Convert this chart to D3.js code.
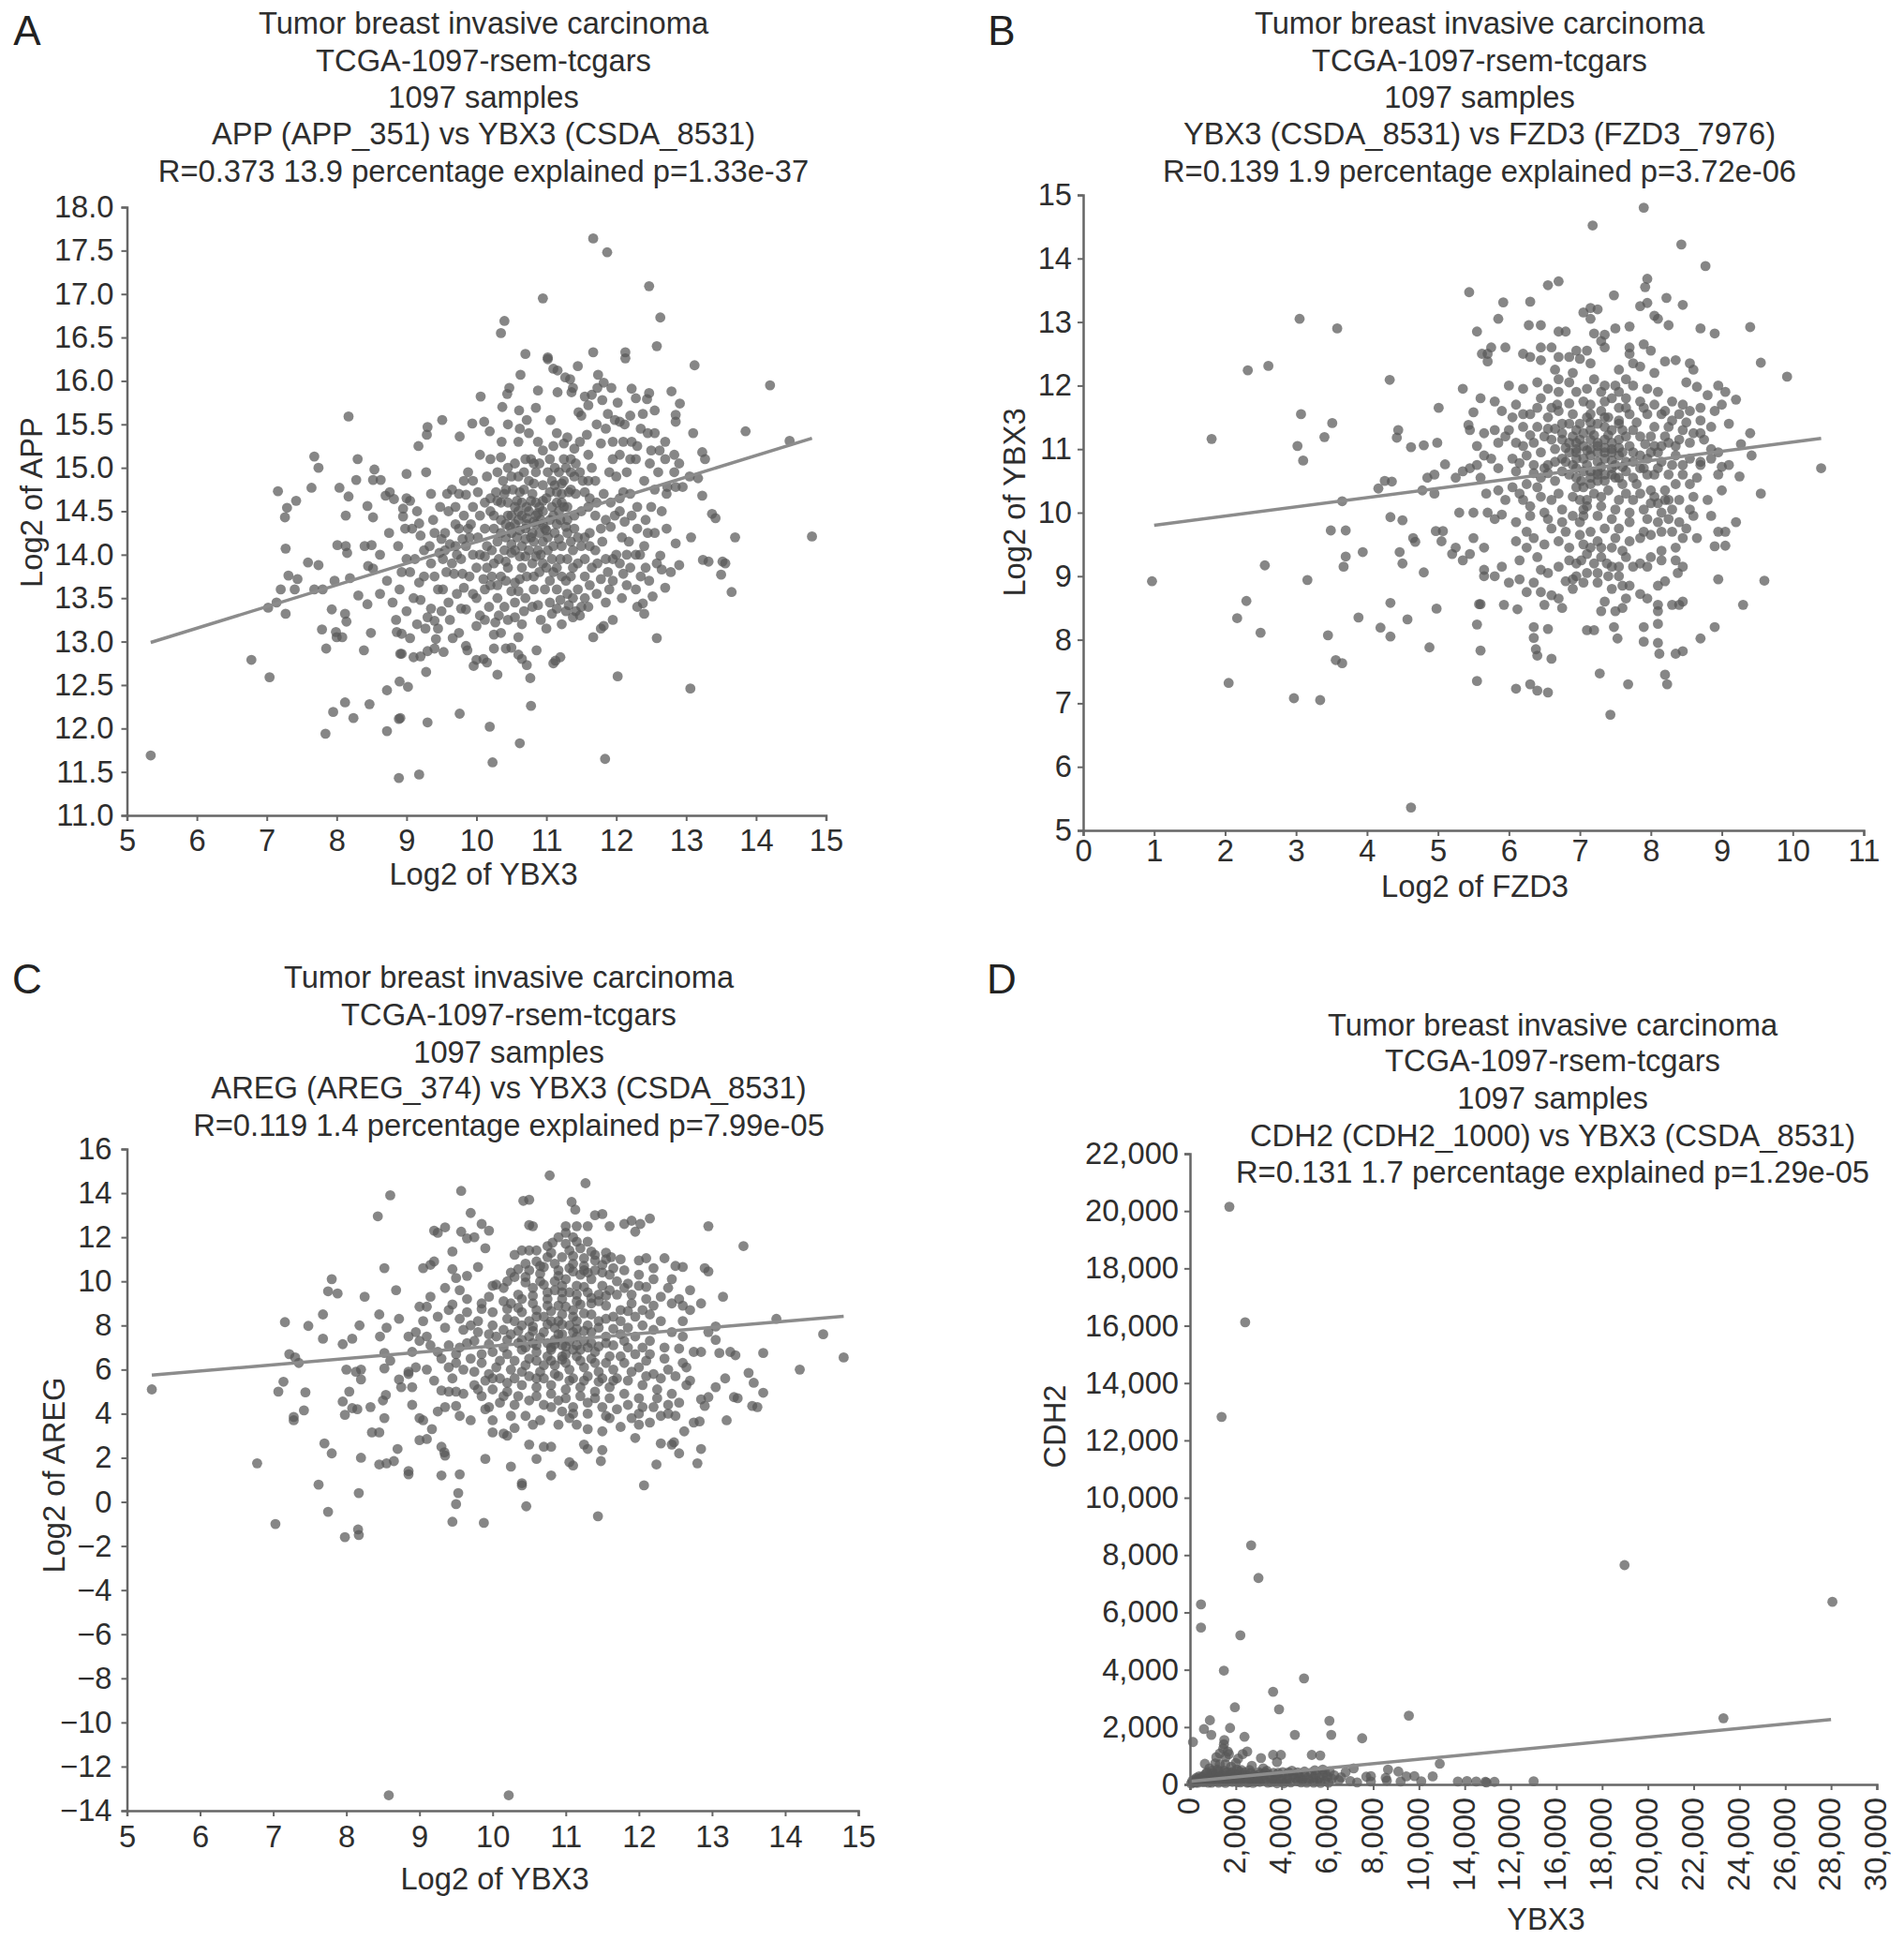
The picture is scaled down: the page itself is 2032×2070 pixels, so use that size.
<!DOCTYPE html>
<html><head><meta charset="utf-8">
<script src="https://cdnjs.cloudflare.com/ajax/libs/d3/7.8.5/d3.min.js"></script>
<style>html,body{margin:0;padding:0;background:#fff}svg{display:block}text{font-family:"Liberation Sans",Arial,sans-serif;fill:#2e2e2e}</style>
</head><body><svg id="c" width="2032" height="2070"></svg>
<script>
const pointsA=[[5.34,11.69],[6.78,12.79],[7.04,12.59],[7.02,13.39],[7.14,13.45],[7.27,13.32],[7.2,13.6],[7.31,13.76],[7.44,13.72],[7.4,13.6],[7.27,14.07],[7.16,14.73],[7.26,14.43],[7.29,14.54],[7.42,14.62],[7.59,13.91],[7.74,13.88],[7.68,13.6],[7.8,13.6],[7.64,14.77],[7.68,15.13],[7.74,15.0],[8.17,15.59],[8.3,15.1],[8.04,14.77],[8.17,14.67],[8.28,14.86],[8.54,14.98],[8.52,14.86],[8.63,14.86],[8.13,14.45],[8.44,14.56],[8.52,14.43],[8.01,14.11],[8.13,14.1],[8.15,14.02],[8.4,14.1],[8.5,14.11],[7.97,13.7],[8.19,13.73],[8.45,13.87],[8.52,13.84],[8.31,13.53],[8.44,13.43],[7.93,13.37],[8.12,13.32],[8.14,13.23],[7.79,13.14],[7.99,13.11],[8.0,13.05],[8.08,13.05],[7.85,12.92],[8.39,12.9],[8.49,13.1],[8.86,13.11],[8.93,13.09],[9.05,13.04],[8.91,12.86],[8.93,12.86],[9.1,12.82],[9.2,12.83],[9.3,12.89],[9.28,12.65],[9.4,12.92],[9.53,12.88],[9.66,13.04],[9.42,13.03],[8.9,12.54],[9.02,12.48],[8.72,12.44],[8.12,12.3],[8.47,12.28],[7.95,12.19],[8.24,12.12],[7.84,11.94],[8.72,11.97],[8.89,12.11],[8.91,12.12],[9.3,12.07],[9.76,12.17],[10.19,12.02],[10.23,11.61],[10.62,11.83],[10.78,12.26],[8.89,11.43],[9.18,11.47],[11.84,11.65],[12.02,12.6],[13.06,12.46],[12.58,13.04],[11.67,13.05],[11.78,13.15],[11.82,13.18],[11.95,13.25],[10.86,12.9],[10.72,12.73],[10.65,12.8],[10.6,12.85],[10.77,12.58],[11.13,12.78],[11.1,12.75],[11.2,12.82],[10.42,12.92],[10.25,12.92],[10.5,12.93],[10.3,12.62],[10.1,12.8],[10.0,12.79],[10.15,12.76],[9.96,12.72],[9.85,12.95],[9.87,12.9],[10.25,13.08],[10.35,13.1],[10.6,13.05],
[11.67,17.64],[11.87,17.48],[12.47,17.09],[10.95,16.95],[12.63,16.73],[10.4,16.69],[10.35,16.55],[10.7,16.31],[11.67,16.33],[11.02,16.27],[11.02,16.25],[12.13,16.33],[12.13,16.26],[12.58,16.4],[13.12,16.18],[11.45,16.17],[11.1,16.14],[11.16,16.12],[11.27,16.04],[11.34,16.02],[10.63,16.07],[14.2,15.95],[11.74,16.07],[11.82,15.98],[11.93,15.92],[12.22,15.91],[12.47,15.86],[12.44,15.79],[12.79,15.88],[12.91,15.74],[10.47,15.92],[10.44,15.85],[10.37,15.7],[10.88,15.89],[11.16,15.87],[11.36,15.87],[11.38,15.92],[11.55,15.82],[11.65,15.84],[11.73,15.92],[10.06,15.82],[12.55,15.66],[10.61,15.66],[10.85,15.69],[10.72,15.55],[11.06,15.55],[11.46,15.64],[11.5,15.6],[11.88,15.62],[11.98,15.55],[12.2,15.6],[12.05,15.53],[12.85,15.61],[12.85,15.53],[9.51,15.55],[9.3,15.47],[9.29,15.38],[9.17,15.25],[9.94,15.51],[10.11,15.53],[10.19,15.42],[9.76,15.36],[10.36,15.3],[10.6,15.3],[13.1,15.4],[13.85,15.42],[14.48,15.31],[14.8,14.21],[13.23,15.18],[13.27,15.1],[13.05,14.9],[13.17,14.88],[12.9,15.05],[12.83,15.15],[12.83,14.95],[12.95,14.78],[12.85,14.78],[12.72,14.7],[12.73,14.78],[13.23,14.68],[13.37,14.47],[13.42,14.42],[13.7,14.2],[13.52,13.92],[13.56,13.9],[13.5,13.77],[13.65,13.57],[13.24,13.94],[13.32,13.92],[12.9,13.88],[12.85,14.13],[13.07,14.2],[12.63,13.99],[12.58,13.9],[12.65,13.83],[12.78,13.8],[12.7,13.62],[12.47,13.7],[12.52,13.52],[12.38,13.44],[12.3,13.4],[12.4,13.32],[12.34,14.0],[12.42,13.85],[12.28,14.0],[12.1,13.78],[12.2,13.85],[12.08,13.5],[11.9,13.6],[11.73,13.9],[11.88,13.8],
[9.0,14.65],[8.7,14.68],[8.76,14.72],[8.82,14.64],[8.95,14.53],[8.95,14.44],[9.05,14.62],[9.08,14.3],[9.15,14.5],[9.18,14.36],[9.2,14.22],[9.28,14.95],[9.0,14.93],[9.33,14.1],[9.4,14.25],[9.5,14.18],[9.47,14.02],[9.12,13.95],[9.0,13.95],[8.93,13.8],[9.05,13.8],[9.18,13.68],[8.9,13.6],[9.1,13.5],[9.2,13.48],[9.35,13.38],[9.45,13.6],[9.3,13.28],[9.4,13.24],[9.27,13.15],[9.0,13.35],[9.57,13.8],[9.65,13.9],[9.7,14.1],[9.75,14.3],[9.6,14.5],[9.65,14.75],[9.75,14.7],[9.85,14.69],[9.95,14.85],[9.82,14.45],[9.9,14.2],[9.95,14.0],[9.8,13.78],[9.9,13.75],[9.95,13.55],[10.05,13.3],[9.85,13.37],[10.0,13.18],[10.12,13.25],[10.27,13.22],[10.1,13.72],[10.2,13.65],[10.3,13.5],[10.25,13.9],[10.15,14.1],[10.25,14.3],[10.05,14.45],[10.2,14.65],[10.15,14.9],[10.05,15.15],[10.2,15.1],[10.3,14.95],[10.4,14.7],[10.45,14.45],[10.5,14.25],[10.4,14.05],[10.45,13.85],[10.55,13.68],[10.55,13.45],[10.45,13.25],[10.65,13.2],[10.7,13.5],[10.72,13.75],[10.62,13.98],[10.7,14.18],[10.6,14.4],[10.65,14.6],[10.52,14.75],[10.6,14.9],[10.78,15.1],[10.88,15.3],[10.85,14.95],[10.95,14.8],[10.8,14.7],[10.75,14.5],[10.85,14.35],[10.95,14.5],[10.82,14.15],[10.92,14.0],[10.8,13.9],[10.9,13.8],[10.98,13.6],[10.88,13.42],[11.0,13.15],[11.05,13.45],[11.15,13.6],[11.1,13.8],[11.02,14.05],[11.12,14.25],[11.05,14.4],[11.15,14.6],[11.05,14.72],[11.02,14.95],[11.12,15.0],[11.1,15.25],[11.25,15.1],[11.25,14.85],[11.35,14.95],[11.22,14.7],[11.3,14.55],[11.2,14.4],[11.3,14.25],[11.22,14.1],[11.3,13.95],[11.22,13.75],[11.3,13.55],[11.2,13.48],[11.28,13.35],[11.22,13.2],[11.42,13.35],[11.5,13.4],[11.45,13.6],[11.55,13.75],[11.45,13.9],[11.5,14.1],[11.4,14.3],[11.5,14.5],[11.42,14.7],[11.52,14.85],[11.42,15.05],[11.48,15.3],[11.58,15.38],[11.6,15.15],[11.65,15.0],[11.7,14.85],[11.62,14.65],[11.7,14.45],[11.62,14.25],[11.7,14.05],[11.65,13.85],[11.72,13.55],[11.85,13.45],[11.8,14.15],[11.85,14.4],[11.82,14.7],[11.9,14.95],[11.78,15.28],[11.95,15.3],[12.05,15.15],[12.0,14.9],[12.05,14.65],[11.98,14.45],[12.08,14.2],[12.0,14.0],[12.15,14.0],[12.2,14.7],[12.15,14.95],[12.28,15.1],[12.35,15.45],[12.45,15.4],[12.5,15.2],[12.48,15.05],[12.4,14.85],[12.3,14.55],[12.42,14.4],[12.3,14.3],[12.55,14.75],[12.6,14.95],[12.62,15.2],
[10.85,14.6],[10.9,14.25],[10.7,14.3],[10.55,14.55],[10.75,14.85],[10.65,14.45],[10.45,14.6],[10.35,14.4],[10.58,14.2],[10.42,14.2],[10.8,14.25],[10.98,14.3],[11.08,14.55],[11.0,14.65],[11.18,14.95],[11.12,14.8],[11.28,15.0],[11.35,14.75],[11.18,14.5],[11.4,14.45],[11.3,14.4],[10.55,14.35],[10.68,14.75],[10.88,14.48],[10.35,14.6],[10.3,14.15],[10.55,14.05],[10.75,14.05],[10.95,14.15],[11.1,14.1],[11.2,13.95],[10.65,13.85],[10.35,13.75],[10.05,14.0],[9.85,14.1],[9.7,14.35],[9.55,14.25],[9.78,13.95],[10.15,13.85],[10.6,13.58],[11.35,14.15],[11.6,14.55],[11.55,14.2],[11.85,13.95],[10.9,15.05],[11.4,14.9],[10.2,14.5],[10.3,13.65],[10.4,13.4],[10.82,13.6],[11.35,13.75],[11.6,13.4],[9.5,13.35],[9.62,13.25],[9.75,13.1],[9.58,14.7],[9.88,14.95]];
const extraA=[[10.48,14.32],[10.62,14.28],[10.72,14.42],[10.58,14.62],[10.78,14.62],[10.92,14.4],[11.02,14.2],[11.15,14.35],[11.25,14.55],[11.08,14.85],[10.95,14.62],[10.82,14.82],[10.68,14.95],[10.5,14.9],[10.38,14.85],[10.3,14.62],[10.25,14.45],[10.12,14.3],[10.02,14.2],[10.12,14.6],[10.02,14.72],[9.95,14.55],[9.88,14.3],[9.8,14.18],[9.72,14.0],[9.62,14.12],[9.52,13.95],[9.68,13.78],[9.82,13.62],[10.0,13.85],[10.12,13.98],[10.22,14.05],[10.32,13.95],[10.42,13.92],[10.5,14.12],[10.65,14.1],[10.78,14.2],[10.88,14.05],[11.0,14.28],[11.08,13.95],[11.18,14.18],[11.28,14.32],[11.38,14.05],[11.45,14.2],[11.38,13.85],[11.28,13.7],[11.15,13.85],[11.05,13.7],[10.95,13.9],[10.82,13.75],[10.62,13.72],[10.5,13.58],[10.42,13.7],[10.22,13.75],[10.12,13.6],[10.0,13.5],[10.18,13.4],[10.32,13.3],[10.55,13.28],[10.68,13.35],[10.8,13.4],[10.92,13.25],[11.08,13.32],[11.15,13.38],[11.32,13.42],[11.38,13.5],[11.55,13.5],[11.48,13.3],[11.38,13.28],[11.62,13.65],[11.78,13.72],[11.55,13.95],[11.62,14.1],[11.78,14.3],[11.72,14.6],[11.92,14.6],[11.92,14.32],[12.05,14.5],[12.1,14.72],[12.12,14.38],[12.18,14.15],[12.22,14.45],[11.55,14.72],[11.6,14.85],[11.48,14.95],[11.35,15.1],[11.25,15.28],[11.4,15.22],[11.3,15.35],[11.05,15.1],[10.95,15.2],[10.82,15.05],[10.7,15.1],[10.55,15.05],[10.45,15.0],[10.35,15.12],[10.62,15.45],[10.45,15.5],[10.75,15.4],[11.15,15.4],[11.72,15.5],[11.85,15.45],[11.95,15.1],[12.1,15.3],[12.22,15.3],[12.3,15.25],[12.2,15.1],[12.12,15.5],[12.28,15.8],[12.02,15.75],[11.8,15.78],[11.6,15.72],[12.38,15.62],[12.55,15.4],[12.7,15.1],[12.7,15.3],[12.65,14.5],[12.5,14.55],[12.45,14.25],[12.55,14.25],[12.72,14.3],[12.4,14.1],[12.15,13.65],[12.28,13.6],[12.35,13.75],[12.05,13.9],[11.95,13.95],[11.95,13.7],[9.25,14.05],[9.35,13.9],[9.25,13.75],[9.4,13.75],[9.52,13.6],[9.6,13.45],[9.72,13.55],[9.78,13.38],[9.55,14.05],[9.38,14.4],[9.48,14.55],[9.35,14.7],[9.7,14.55],[9.82,14.85],[9.92,14.35],[8.98,14.3],[8.88,14.1],[8.75,14.25],[8.62,14.0],[8.72,13.7],[8.62,13.55],[8.8,13.45],[8.85,13.25],[9.15,13.2],[9.45,13.15],[10.72,14.35],[10.85,14.45],[10.6,14.5],[10.72,14.55],[10.9,14.55],[10.95,14.35],[10.5,14.45],[10.42,14.35],[11.1,14.45],[11.22,14.6],[11.32,14.72],[11.15,14.72],[11.22,14.82],[10.82,14.38],[10.62,14.72],[10.42,14.75],[10.28,14.72],[10.35,14.25],[10.5,14.02],[10.7,13.98],[10.85,13.98],[11.0,13.85]];
const lineA=[[5.34,12.99],[14.8,15.34]];
const pointsB=[[0.97,8.92],[1.81,11.16],[2.05,7.32],[2.17,8.34],[2.3,8.61],[2.5,8.11],[2.56,9.17],[2.32,12.24],[2.61,12.31],[3.05,13.05],[3.58,12.9],[3.07,11.55],[3.02,11.05],[3.1,10.82],[3.4,11.19],[3.51,11.41],[2.97,7.08],[3.34,7.05],[3.16,8.94],[3.45,8.07],[3.56,7.68],[3.65,7.63],[3.49,9.72],[3.7,9.72],[3.65,10.18],[3.7,9.31],[3.67,9.15],[3.94,9.38],[3.88,8.35],[4.19,8.19],[4.33,8.05],[4.33,8.58],[4.57,8.32],[4.46,9.38],[4.5,9.2],[4.33,9.93],[4.5,9.88],[4.16,10.38],[4.25,10.5],[4.35,10.49],[4.32,12.09],[4.44,11.3],[4.42,11.18],[4.62,11.03],[4.8,11.06],[4.99,11.1],[5.01,11.65],[4.62,5.36],[4.65,9.6],[4.68,9.54],[4.8,9.06],[4.88,7.88],[4.98,8.49],[4.97,9.71],[5.07,9.71],[5.05,9.55],[5.25,9.45],[5.2,9.35],[5.35,9.25],[5.45,9.35],[5.44,13.47],[5.1,10.76],[4.85,10.55],[4.95,10.6],[4.78,10.35],[4.95,10.3],[5.25,10.55],[5.35,10.65],[5.45,10.7],[5.55,10.75],[5.6,11.8],[5.55,12.85],[5.62,12.5],[5.7,12.5],[5.75,12.6],[5.95,12.6],[5.7,12.38],[5.85,13.05],[5.35,11.95],[5.45,11.3],[5.43,11.38],[5.5,11.58],[5.55,11.05],[5.65,10.9],[5.75,10.85],[5.6,10.55],[5.68,10.3],[5.5,10.0],[5.3,10.0],[5.7,10.0],[5.9,9.97],[5.8,9.9],[5.65,9.45],[5.5,9.6],[5.65,9.1],[5.58,8.56],[5.6,8.56],[5.55,8.24],[5.6,7.83],[5.55,7.35],[5.65,9.0],[5.8,9.0],[5.9,9.15],[5.93,8.55],[6.12,8.48],[6.0,8.9],[6.1,7.23],[6.3,7.3],[6.4,7.2],[6.55,7.17],[6.35,8.2],[6.35,8.03],[6.55,8.17],[6.38,7.85],[6.4,7.75],[6.6,7.7],[6.35,8.9],[6.45,8.75],[6.6,8.7],[6.7,8.65],[6.75,8.5],[6.8,8.92],[6.9,8.8],[7.1,8.15],[7.2,8.15],[7.28,7.47],[7.3,8.45],[7.5,8.45],[7.48,8.2],[7.53,8.02],[7.6,8.5],[7.43,6.82],[7.68,7.3],[7.9,7.97],[7.9,8.2],[8.1,7.95],[8.12,7.78],[8.1,8.25],[8.2,7.45],[8.23,7.3],[8.35,7.78],[8.45,7.82],[8.1,8.55],[8.1,8.45],[8.3,8.55],[8.4,8.55],[8.45,8.6],[8.7,8.02],[8.9,8.2],[9.3,8.55],[9.6,8.93],[8.95,8.95],[8.9,9.47],[9.05,9.7],[8.95,9.7],[9.05,9.48],[9.2,9.85],[8.85,9.95],[8.65,9.6],[8.45,9.6],[8.5,9.75],[8.35,9.25],[8.15,9.25],[8.45,9.15],[8.38,9.05],[8.2,8.92],[8.1,8.85],[7.95,8.65],[7.85,8.72],[7.6,8.85],[7.7,8.85],[7.55,9.0],[7.4,9.0],[7.25,8.9],[7.05,8.9],[6.95,9.2],
[5.92,13.31],[6.3,13.32],[6.55,13.58],[6.7,13.64],[7.18,14.52],[7.9,14.8],[8.43,14.22],[8.77,13.88],[7.95,13.68],[7.92,13.55],[7.48,13.42],[8.22,13.38],[8.45,13.27],[7.85,13.25],[7.95,13.3],[7.05,13.15],[7.15,13.22],[7.25,13.2],[7.15,13.05],[6.28,12.95],[6.45,12.95],[8.05,13.1],[8.1,13.05],[8.25,12.95],[8.7,12.9],[8.9,12.82],[7.5,12.9],[7.7,12.93],[6.7,12.85],[6.8,12.85],[7.2,12.82],[7.35,12.8],[9.4,12.92],[9.55,12.36],[9.92,12.14],[7.3,12.7],[7.35,12.6],[7.1,12.55],[6.95,12.55],[6.6,12.6],[6.45,12.6],[6.7,12.45],[6.2,12.5],[6.3,12.45],[6.45,12.4],[6.65,12.25],[6.85,12.45],[7.0,12.42],[7.15,12.35],[7.7,12.6],[7.7,12.5],[7.9,12.65],[8.0,12.55],[8.35,12.4],[8.2,12.38],[8.55,12.35],[8.6,12.25],[7.75,12.35],[7.55,12.25],[7.85,12.3],[8.05,12.2],[9.4,11.25],[9.27,11.08],[9.42,10.9],[9.25,10.57],[9.55,10.3],[10.4,10.7],[9.0,11.7],[9.2,11.78],[9.05,11.9],[8.95,12.0],[8.8,11.85],[8.65,11.98],[8.5,12.05],[8.9,11.6],[8.7,11.45],[8.5,11.42],[8.15,11.55],[8.85,11.0],[8.7,10.8],[8.95,10.6],[9.0,10.35],[8.8,10.2],[8.6,10.25],[8.4,10.2],[8.6,9.95],[8.3,10.05],[8.4,9.85],[9.1,10.75],[9.0,10.72],
[6.0,12.0],[5.8,11.75],[6.1,11.7],[5.9,11.6],[6.2,11.95],[6.3,11.55],[6.45,11.8],[6.55,11.95],[6.4,12.05],[6.7,12.1],[6.85,12.05],[6.95,11.9],[7.05,11.75],[7.2,12.1],[7.35,12.0],[7.5,12.0],[7.65,12.1],[7.75,12.0],[7.95,11.95],[8.1,11.9],[8.3,11.75],[8.45,11.7],[8.55,11.6],[7.85,11.75],[7.65,11.8],[7.45,11.8],[7.3,11.6],[7.1,11.5],[6.9,11.55],[6.7,11.6],[6.55,11.5],[6.4,11.35],[6.2,11.35],[6.0,11.3],[5.8,11.3],[5.65,11.25],[5.85,11.1],[6.1,11.1],[6.35,11.1],[6.5,11.2],[6.75,11.25],[6.95,11.3],[7.15,11.3],[7.35,11.35],[7.55,11.45],[7.7,11.55],[7.95,11.55],[8.05,11.35],[8.25,11.35],[8.4,11.15],[8.55,11.1],[8.25,11.1],[8.05,11.05],[7.85,11.2],[7.65,11.2],[7.45,11.1],[7.25,11.05],[7.05,11.05],[6.85,11.1],[6.65,11.0],[6.45,10.95],[6.25,10.9],[6.05,10.85],[5.85,10.7],[6.1,10.65],[6.35,10.75],[6.55,10.75],[6.75,10.85],[6.95,10.85],[7.15,10.9],[7.35,10.85],[7.55,10.9],[7.75,10.95],[7.95,10.85],[8.15,10.8],[8.35,10.9],[8.55,10.85],[8.7,10.75],[8.45,10.6],[8.25,10.6],[8.05,10.6],[7.85,10.7],[7.65,10.65],[7.45,10.7],[7.25,10.65],[7.05,10.65],[6.85,10.6],[6.65,10.5],[6.45,10.55],[6.25,10.45],[6.05,10.4],[5.85,10.35],[6.2,10.2],[6.45,10.25],[6.7,10.3],[6.95,10.4],[7.15,10.45],[7.35,10.5],[7.6,10.45],[7.8,10.45],[8.0,10.35],[8.2,10.35],[8.0,10.15],[7.75,10.2],[7.55,10.2],[7.3,10.25],[7.0,10.2],[6.75,10.05],[6.5,10.0],[6.3,9.95],[6.1,9.85],[6.1,9.55],[6.35,9.6],[6.6,9.75],[6.8,9.7],[7.0,9.85],[7.05,9.95],[7.25,9.95],[7.45,9.9],[7.7,9.85],[7.95,9.9],[8.15,10.0],[7.9,9.7],[8.0,9.65],[7.7,9.55],[7.5,9.6],[7.25,9.55],[7.05,9.5],[6.85,9.45],[6.4,9.3],[6.25,9.45],[7.1,9.35],[7.3,9.3],[7.45,9.15],[7.65,9.3],[7.85,9.2],[8.0,9.3],[7.2,9.2],[6.95,9.0],[6.15,9.25],[7.05,10.05],[7.25,10.6],[7.45,10.95],[6.95,11.1],[7.15,11.15],[7.35,11.15],[7.05,10.85],[7.25,10.8],[6.85,10.95],[7.5,10.75],[7.65,10.8],[6.65,10.8],[6.5,10.7],[7.9,10.7],[8.1,10.95],[7.0,11.4],[7.25,11.4],[7.45,11.3],[6.75,11.4]];
const extraB=[[6.9,11.2],[7.05,11.25],[7.2,11.22],[7.4,11.22],[7.55,11.15],[7.7,11.05],[7.55,11.02],[7.35,11.02],[7.15,11.0],[6.95,11.0],[6.8,11.02],[6.6,11.15],[6.75,11.15],[6.9,10.75],[7.1,10.75],[7.3,10.72],[7.45,10.82],[7.6,10.72],[7.75,10.8],[7.85,10.9],[8.0,10.95],[7.92,11.08],[7.75,11.3],[7.6,11.3],[7.8,11.42],[8.0,11.2],[8.2,11.2],[8.15,11.05],[8.35,11.05],[8.3,10.75],[8.45,10.75],[8.1,10.7],[7.95,10.6],[7.75,10.55],[7.55,10.55],[7.35,10.6],[7.15,10.55],[6.95,10.55],[6.75,10.65],[6.55,10.62],[6.35,10.62],[6.15,10.78],[6.2,11.05],[6.3,11.22],[6.55,11.32],[6.68,11.7],[6.85,11.72],[7.15,11.7],[7.35,11.75],[7.55,11.65],[7.15,11.55],[7.4,11.5],[6.6,11.65],[6.4,11.65],[6.2,11.55],[6.05,11.5],[5.95,11.2],[6.7,11.9],[6.9,12.2],[7.1,11.95],[7.3,11.9],[7.55,11.9],[7.65,11.65],[7.9,11.65],[8.05,11.7],[8.2,11.6],[8.3,11.45],[8.45,11.3],[8.7,11.25],[8.6,11.25],[8.35,10.45],[8.2,10.2],[8.05,10.25],[7.85,10.3],[7.65,10.3],[7.4,10.35],[7.2,10.3],[6.9,10.25],[6.6,10.2],[6.4,10.4],[6.15,10.3],[5.95,10.2],[6.3,10.1],[6.55,9.9],[6.75,9.85],[6.9,9.95],[7.1,10.1],[7.3,10.1],[7.5,10.05],[7.7,10.0],[7.9,10.05],[8.1,10.15],[8.25,10.2],[7.85,9.6],[7.55,9.75],[7.35,9.75],[7.15,9.7],[7.0,9.65],[6.7,9.55],[6.5,9.5],[6.25,9.7],[7.3,9.45],[7.45,9.45],[7.6,9.4],[7.75,9.15],[7.95,9.15],[7.55,9.15],[7.38,9.2],[7.25,9.05],[7.15,9.45],[7.02,9.25],[6.85,9.25],[6.7,9.15],[6.55,9.05],[6.45,9.1],[6.25,8.75],[6.5,8.55],[6.15,8.95],[6.9,8.95],[7.1,9.05],[7.45,8.8],[7.65,8.65],[7.35,8.6],[8.15,9.4],[8.35,9.45],[8.3,9.7],[8.15,9.7],[8.55,10.05],[8.25,9.9],[8.1,9.85],[8.55,10.45],[8.65,10.55],[8.95,10.95],[8.85,10.85],[8.75,11.15],[9.1,11.4],[8.4,11.55],[8.7,11.65],[8.85,11.35],[6.95,10.95],[7.1,10.98],[7.25,10.95],[7.45,10.6],[7.35,10.95],[6.95,10.7],[7.15,10.65],[6.8,10.8],[7.02,10.5],[7.25,10.5],[7.5,10.55],[7.6,10.95],[7.55,11.4],[7.15,11.42],[6.85,11.4],[6.65,11.32],[7.35,11.5],[7.0,11.15],[7.25,11.1],[7.45,11.0],[7.05,10.4],[7.1,10.2]];
const lineB=[[1,9.8],[10.4,11.17]];
const pointsC=[[5.34,5.1],[6.78,1.75],[7.03,-1.0],[7.07,5.0],[7.14,5.45],[7.16,8.15],[7.22,6.7],[7.3,6.55],[7.35,6.3],[7.28,3.85],[7.28,3.7],[7.42,4.15],[7.44,4.97],[7.48,7.98],[7.68,8.5],[7.68,7.4],[7.62,0.78],[7.75,-0.45],[7.7,2.65],[7.8,2.2],[7.8,10.1],[7.75,9.55],[7.88,9.45],[7.95,7.15],[8.08,7.4],[8.0,6.0],[8.13,5.9],[7.95,4.55],[7.98,3.95],[8.04,5.0],[8.08,4.25],[8.15,4.2],[8.2,5.55],[8.2,6.0],[8.18,8.0],[8.17,0.4],[7.98,-1.6],[8.16,-1.25],[8.17,-1.5],[8.2,2.0],[8.25,9.3],[8.33,4.3],[8.35,3.15],[8.45,3.15],[8.45,8.5],[8.46,7.5],[8.43,12.95],[8.6,13.9],[8.52,10.6],[8.55,7.9],[8.52,6.75],[8.52,6.05],[8.5,4.6],[8.54,4.85],[8.52,3.8],[8.45,1.7],[8.55,1.75],[8.65,1.85],[8.7,2.4],[8.6,6.4],[8.72,8.3],[8.68,9.6],[8.58,-13.3],[10.22,-13.3],[8.85,1.4],[8.85,1.25],[8.75,5.2],[8.72,5.55],[8.85,5.8],[8.9,5.2],[8.9,4.4],[9.0,3.8],[9.05,3.7],[9.0,2.8],[9.1,2.85],[9.17,3.3],[9.3,2.5],[9.34,2.25],[9.35,2.1],[9.3,1.2],[9.55,1.25],[9.5,-0.1],[9.45,-0.9],[9.53,0.4],[9.88,-0.95],[9.9,1.95],[10.25,1.6],[10.4,0.85],[10.4,0.75],[10.46,-0.2],[10.6,1.95],[10.8,1.2],[11.05,1.8],[11.1,1.65],[11.44,-0.65],[11.48,1.85],[11.5,2.35],[12.07,0.75],[12.24,1.7],[12.8,1.75],[12.85,2.4],[12.55,2.2],[12.3,2.65],[12.45,2.6],[12.48,2.7],[12.83,3.65],[12.75,3.6],[12.62,3.2],[12.5,3.9],[12.4,4.0],[11.95,2.9],[11.9,3.8],[12.0,3.5],[12.15,3.6],[11.6,3.8],[12.9,4.35],[12.85,4.65],[12.95,4.75],[13.2,3.7],[13.3,4.75],[13.35,4.7],[13.5,5.85],[13.05,5.2],[13.55,4.35],[13.62,4.3],[13.7,4.95],[13.57,5.4],[13.18,5.6],[12.85,6.8],[13.1,6.75],[13.25,6.8],[13.32,6.65],[13.7,6.75],[14.2,6.0],[14.8,6.55],[14.52,7.6],[13.88,8.3],[13.05,7.95],[13.05,7.35],[12.95,7.7],[13.15,9.3],[12.95,10.45],[12.9,10.6],[12.95,12.5],[13.43,11.6],[12.15,12.85],[11.9,12.75],[12.02,12.6],[11.95,12.25],[11.8,12.6],[11.6,12.5],[11.5,13.05],[11.4,13.0],[11.27,14.45],[10.78,14.8],[11.08,13.6],[11.13,13.25],[10.5,13.7],[10.42,13.65],[9.57,14.1],[9.7,13.1],[9.2,12.3],[9.25,12.2],[9.35,12.45],[9.57,12.25],[9.65,11.95],[9.75,12.0],[9.85,12.6],[9.95,12.3],[9.9,11.5],[10.5,12.55],[10.55,12.5],[9.0,8.85],[9.15,9.3],[9.1,8.85],[9.05,10.6],[9.15,10.75],[9.2,10.9],[9.45,11.35],[9.45,10.55],[9.65,10.25],[9.5,10.15],[9.8,10.65],[9.4,8.7],[9.45,8.95],[9.65,8.6],[9.85,8.75],[9.8,8.2],[9.35,7.9],[9.1,7.5],[9.0,7.3],[8.9,6.8],[9.15,7.1],[9.25,6.8],[9.4,7.1],[8.85,5.9],[9.2,5.5],[9.3,5.05],[9.5,5.0],[9.6,4.9],[9.45,5.6],[9.35,4.3],[9.5,4.35],[9.55,3.9],[9.7,3.7],[9.85,4.8],[9.95,4.3],[9.9,5.5],[10.0,3.15],[10.15,3.1],[10.2,3.0],[10.3,3.35],[10.5,2.6],[10.7,2.5],[10.8,2.5],[10.55,3.5],[11.25,2.6],[11.3,2.4],[11.5,3.2],[11.3,3.3],[11.05,3.8],[10.8,4.3],
[10.05,9.85],[10.15,9.7],[10.25,10.4],[10.3,11.2],[10.4,11.4],[10.5,11.4],[10.6,11.4],[10.75,11.6],[10.82,11.75],[10.9,12.0],[11.0,12.2],[11.0,12.5],[11.15,12.5],[11.3,12.5],[11.15,11.8],[11.2,11.5],[11.35,11.35],[11.05,11.4],[10.75,11.1],[10.6,10.9],[10.45,10.8],[10.3,10.2],[10.45,10.2],[10.65,10.35],[10.9,10.5],[11.1,10.8],[11.25,10.7],[11.4,10.5],[11.55,11.0],[11.62,11.1],[11.75,11.0],[11.6,10.3],[11.7,10.0],[11.85,9.9],[12.0,9.8],[12.1,9.75],[12.0,10.95],[12.1,11.05],[12.2,10.6],[12.35,11.05],[12.5,10.7],[12.6,10.65],[12.4,9.7],[12.3,9.3],[12.55,9.2],[12.6,8.9],[12.7,8.7],[12.45,9.0],[12.6,8.2],[12.3,8.2],[12.15,8.5],[11.95,8.4],[11.75,8.2],[11.55,8.3],[11.35,8.5],[11.15,8.2],[10.95,8.5],[10.8,8.2],[10.6,8.4],[10.4,8.0],[10.2,8.3],[10.0,8.0],[10.05,7.5],[10.25,7.6],[10.5,7.5],[10.7,7.7],[10.95,7.6],[11.15,7.5],[11.35,7.7],[11.55,7.5],[11.75,7.6],[11.95,7.5],[12.15,7.3],[12.35,7.0],[12.55,6.95],[12.6,6.3],[12.4,6.0],[12.2,5.8],[12.0,6.1],[11.8,6.3],[11.6,6.6],[11.4,6.8],[11.2,6.9],[11.0,6.7],[10.8,6.9],[10.6,6.8],[10.4,6.9],[10.2,6.7],[10.0,6.8],[9.85,6.3],[10.05,6.1],[10.25,6.0],[10.45,6.2],[10.65,5.9],[10.85,6.2],[11.05,6.0],[11.25,6.1],[11.45,5.9],[11.65,6.0],[11.85,5.5],[12.05,5.3],[12.25,5.1],[12.45,4.9],[12.65,5.3],[12.7,5.5],[12.4,4.4],[12.2,4.3],[12.0,4.7],[11.8,4.9],[11.6,5.2],[11.4,5.0],[11.2,5.2],[11.0,5.1],[10.8,5.3],[10.6,5.2],[10.4,5.3],[10.2,5.0],[10.0,5.1],[9.9,4.2],[10.1,4.5],[10.3,4.4],[10.5,4.6],[10.7,4.4],[10.9,4.6],[11.1,4.3],[11.3,4.5],[11.5,4.3],[11.7,4.2],[10.45,3.9],[10.65,3.7],[10.9,3.5],[11.15,3.5],[11.75,3.4],[12.0,4.0],[9.55,7.0],[9.75,7.3],[9.6,7.8],[9.8,7.7],[9.7,6.5],[9.5,6.3],[9.95,5.8],[9.75,5.3],[10.95,9.8],[10.75,9.5],[10.55,9.7],[10.35,9.4],[10.15,9.1],[9.95,9.3],[10.0,9.8],[11.15,9.8],[11.3,9.5],[11.5,9.8],[11.7,9.4],[11.9,9.0],[11.15,9.1],[10.95,9.2],[10.75,8.9],[10.55,9.0],[10.35,8.8],[11.35,9.0],[11.55,8.9],[11.75,8.7],[11.0,10.1],[11.2,10.3],[10.85,10.0],[10.65,10.0],[11.35,10.1],[11.5,10.4],[10.95,7.1],[10.75,7.2],[11.15,7.1],[11.35,7.2],[10.55,7.2],[10.9,8.9],[11.1,8.7],[11.3,8.0],[11.05,8.0],[10.85,7.9],[11.0,6.3],[11.2,6.4],[10.8,6.4],[10.6,6.4],[11.4,6.3],[10.35,7.2],[10.15,7.0]];
const extraC=[[10.8,11.3],[10.95,11.1],[11.1,11.15],[11.25,11.05],[11.4,10.95],[11.5,10.75],[11.3,10.4],[11.1,10.45],[10.9,10.25],[10.7,10.65],[10.5,10.5],[10.35,10.55],[10.2,10.0],[10.45,9.95],[10.7,9.85],[10.85,9.6],[11.05,9.5],[11.25,9.75],[11.45,9.4],[11.6,9.6],[11.8,9.7],[11.45,9.1],[11.2,8.95],[11.0,8.85],[10.8,8.65],[10.6,8.7],[10.4,8.6],[10.2,8.75],[10.0,8.6],[9.85,9.0],[9.65,9.2],[9.55,9.6],[9.35,9.7],[9.25,8.4],[9.55,8.3],[9.7,8.0],[9.95,7.6],[10.15,7.8],[10.35,7.75],[10.55,7.95],[10.75,8.05],[10.95,8.05],[11.15,7.85],[11.45,7.9],[11.65,7.85],[11.85,7.9],[12.05,8.0],[12.2,7.8],[12.45,7.7],[12.6,7.5],[12.75,6.8],[12.65,6.1],[12.5,5.7],[12.3,5.6],[12.1,5.7],[11.9,5.9],[11.7,5.6],[11.5,5.6],[11.3,5.7],[11.1,5.6],[10.9,5.7],[10.7,5.6],[10.5,5.7],[10.3,5.6],[10.1,5.6],[9.75,5.9],[9.6,6.0],[9.4,6.1],[9.3,6.5],[9.5,6.7],[9.85,6.7],[10.1,6.4],[10.3,6.4],[10.5,6.5],[10.7,6.2],[10.95,6.45],[11.15,6.6],[11.35,6.5],[11.55,6.3],[11.75,6.6],[11.95,6.7],[12.15,6.7],[12.35,6.5],[12.05,7.0],[11.85,7.0],[11.65,7.1],[11.45,7.05],[11.25,7.3],[11.05,7.3],[10.85,7.35],[10.65,7.45],[10.4,7.35],[10.2,7.35],[9.95,7.15],[9.65,7.2],[10.3,8.2],[10.5,8.2],[10.7,8.4],[10.9,8.2],[11.1,8.4],[11.25,8.55],[11.45,8.2],[11.65,8.4],[11.85,8.65],[12.05,8.7],[12.2,8.9],[11.9,9.4],[10.55,9.35],[10.75,9.2],[10.95,9.5],[11.15,9.4],[11.35,9.25],[11.55,9.35],[10.25,9.0],[10.4,9.2],[10.65,10.7],[10.85,10.8],[11.05,10.6],[11.25,10.5],[10.4,5.9],[10.6,5.6],[10.85,5.8],[11.05,5.5],[11.25,5.5],[11.45,5.45],[11.65,5.5],[10.2,5.4],[10.0,5.6],[9.8,5.1],[10.15,4.8],[10.35,4.8],[10.6,4.8],[10.8,4.9],[11.0,4.7],[11.2,4.8],[11.4,4.7],[11.6,4.7],[11.85,4.4],[12.05,4.3],[12.25,4.7],[12.3,3.9],[12.55,4.5],[10.25,3.9],[10.0,3.7],[11.55,3.9],[11.3,4.0],[11.1,4.0],[10.95,4.1],[9.25,4.1],[9.4,5.0],[8.95,6.1],[9.1,6.0],[9.05,8.2],[8.95,7.7],[8.85,7.5],[12.1,9.2],[12.2,10.1],[12.0,10.3],[11.8,10.5],[11.65,10.6],[11.4,11.2],[11.55,11.3],[11.0,11.7],[11.3,11.8],[11.1,12.0],[12.45,10.1],[12.7,9.6],[12.85,9.0],[12.1,6.4],[11.8,7.3],[11.55,7.2],[11.3,7.0],[11.0,7.05],[10.8,7.0],[10.6,7.1],[10.45,7.0],[10.9,7.6],[11.1,7.7],[11.25,7.75],[10.55,7.75],[10.75,6.6],[10.95,6.6],[11.1,6.9],[10.85,7.15]];
const lineC=[[5.34,5.75],[14.8,8.42]];
const pointsD=[[1720,20150],[2410,16120],[1380,12820],[2670,8340],[2990,7200],[480,6280],[480,5470],[2200,5200],[1480,3970],[3630,3230],[4980,3700],[1960,2690],[3890,2620],[18980,7650],[28060,6370],[23300,2310],[9560,2400],[6090,2220],[6170,1730],[870,2240],[610,1930],[930,1730],[1750,1970],[130,1480],[2380,1660],[4580,1730],[7520,1610],[10910,720],[5320,1030],[5690,1010],[3630,1030],[3970,1030],[3100,920],[15010,110],[1500,1550],[1480,1400],[1450,1250],[1650,1150],[1300,1080],[1150,950],[1560,960],[1700,1060],[2500,1150],[2300,1060],[2100,900],[2000,750],[1100,730],[650,720],[850,560],[1300,700],[3800,780],[3200,560],[2700,650],[8650,520],[9100,450],[7150,560],[6800,430],[7700,270],[7900,290],[8600,130],[8550,230],[9800,290],[9450,280],[10600,280],[10100,110],[9200,100],[7000,120],[7300,70],[7900,100],[12500,100],[11700,100],[12100,120],[12900,90],[12950,70],[13300,90],[6500,150],[6200,200],[5800,520],[5450,490],[5300,400],[5800,330],[6100,450],[5000,300],[5200,150],[5550,120],[5900,120],[4300,420],[4500,340],[4700,120],[4000,300],[4200,100],[3700,120],[3500,250],[3300,420],[3100,260],[2900,100],[2800,330],[2600,500],[2450,220],[2300,350],[2150,110],[2050,520],[1900,260],[1750,400],[1600,130],[1500,480],[1400,300],[1300,120],[1200,520],[1100,250],[1000,400],[900,120],[850,280],[750,420],[700,180],[600,300],[550,80],[450,180],[400,280],[300,100],[200,170],[130,70],[50,30],[100,120],[280,230],[350,60],[650,90],[950,60],[1250,60],[1550,50],[1850,90],[2200,70],[2550,80],[2750,50],[3050,90],[3400,60],[3800,40],[4100,40],[4400,70],[4850,70],[5100,60],[5700,50],[1050,180],[1350,220],[1650,260],[1950,160],[2250,220],[2600,170],[2950,200],[3250,150],[3550,80],[3900,180],[4250,220],[4600,220],[4900,170],[5400,240],[5650,220],[6000,280],[1150,380],[1450,370],[1750,320],[2050,350],[2400,420],[2750,220],[3050,370],[3450,340],[3750,290],[1000,300],[800,200],[500,150],[2000,230],[2500,310],[1650,180],[1250,260],[2850,260],[1850,440],[2250,500],[1550,700],[1800,620],[4050,430],[4750,290],[3000,430],[3350,480],[3650,400],[2650,400],[2150,450],[1250,450],[1600,420],[950,480],[700,380],[2350,250],[2700,120],[3150,180],[3600,190],[4000,140],[4350,190],[4800,240],[5150,230],[5500,350],[5900,420],[6300,320],[6600,250],[1700,150],[1450,100],[1100,110],[800,60],[500,250],[350,180],[250,60],[4450,480],[3850,400],[3200,330],[2950,120],[2500,60],[2050,80],[5400,60],[5000,450],[4700,420],[6050,60]];
const lineD=[[0,110],[28000,2260]];
const yTicksA=d3.range(11,18.01,0.5),xTicksA=d3.range(5,16);
const yTicksB=d3.range(5,16),xTicksB=d3.range(0,12);
const yTicksC=d3.range(-14,17,2),xTicksC=d3.range(5,16);
const yTicksD=d3.range(0,22001,2000);
const xTicksD=d3.range(0,30001,2000);
const xLabelsD=["0","2,000","4,000","6,000","8,000","10,000","14,000","12,000","16,000","18,000","20,000","22,000","24,000","26,000","28,000","30,000"];
const baseTitle=["Tumor breast invasive carcinoma","TCGA-1097-rsem-tcgars","1097 samples"];
const svg=d3.select("#c");
const FS=32.7,AX="#666";
function panel(o){
 const x=d3.scaleLinear().domain(o.xd).range(o.xr),y=d3.scaleLinear().domain(o.yd).range(o.yr);
 const g=svg.append("g");
 g.append("text").attr("x",o.letter[0]).attr("y",o.letter[1]).attr("text-anchor","middle").attr("dy",".36em").style("font-size","44px").style("fill","#222").text(o.name);
 o.title.forEach((t,i)=>g.append("text").attr("x",o.tx).attr("y",o.ty[i]).attr("dy",".36em").attr("text-anchor","middle").style("font-size",FS+"px").text(t));
 g.append("g").selectAll("circle").data(o.pts).join("circle").attr("cx",d=>x(d[0])).attr("cy",d=>y(d[1])).attr("r",5.4).attr("fill","#585858").attr("fill-opacity",.72);
 g.append("path").attr("d",d3.line().x(d=>x(d[0])).y(d=>y(d[1]))(o.line)).attr("stroke","#8c8c8c").attr("stroke-width",3.5).attr("fill","none");
 const ax=d3.axisBottom(x).tickValues(o.xt).tickSize(6).tickPadding(o.xpad).tickFormat(o.xf||(d=>d));
 const ay=d3.axisLeft(y).tickValues(o.yt).tickSize(6).tickPadding(o.ypad).tickFormat(o.yf||d3.format("d"));
 const gx=g.append("g").attr("transform",`translate(0,${o.yr[0]})`).call(ax);
 const gy=g.append("g").attr("transform",`translate(${o.xr[0]},0)`).call(ay);
 [gx,gy].forEach(a=>{a.selectAll("path").attr("stroke",AX).attr("stroke-width",2.5);a.selectAll("line").attr("stroke",AX).attr("stroke-width",2);a.selectAll("text").style("font-size",FS+"px").style("font-family",'"Liberation Sans",Arial,sans-serif').style("fill","#2e2e2e");});
 if(o.rot) gx.selectAll("text").attr("transform","rotate(-90)").attr("text-anchor","end").attr("x",-14).attr("y",0).attr("dy",".3em");
 g.append("text").attr("x",o.xl[0]).attr("y",o.xl[1]).attr("dy",".36em").attr("text-anchor","middle").style("font-size",FS+"px").text(o.xlabel);
 g.append("text").attr("transform",`translate(${o.yl[0]},${o.yl[1]}) rotate(-90)`).attr("dy",".36em").attr("text-anchor","middle").style("font-size",FS+"px").text(o.ylabel);
}
panel({name:"A",letter:[29,32],title:[...baseTitle,"APP (APP_351) vs YBX3 (CSDA_8531)","R=0.373 13.9 percentage explained p=1.33e-37"],tx:516,ty:[24,64,103,142,182],
 xd:[5,15],xr:[135.5,881.5],yd:[11,18],yr:[870,221],xt:xTicksA,yt:yTicksA,yf:d3.format(".1f"),xpad:9,ypad:8,pts:pointsA.concat(extraA),line:lineA,xlabel:"Log2 of YBX3",ylabel:"Log2 of APP",xl:[516,932],yl:[33,536]});
panel({name:"B",letter:[1069,32],title:[...baseTitle,"YBX3 (CSDA_8531) vs FZD3 (FZD3_7976)","R=0.139 1.9 percentage explained p=3.72e-06"],tx:1579,ty:[24,64,103,142,182],
 xd:[0,11],xr:[1156,1989],yd:[5,15],yr:[886,208],xt:xTicksB,yt:yTicksB,xpad:4,ypad:6,pts:pointsB.concat(extraB),line:lineB,xlabel:"Log2 of FZD3",ylabel:"Log2 of YBX3",xl:[1574,945],yl:[1082,536]});
panel({name:"C",letter:[29,1044],title:[...baseTitle,"AREG (AREG_374) vs YBX3 (CSDA_8531)","R=0.119 1.4 percentage explained p=7.99e-05"],tx:543,ty:[1042,1082,1122,1160,1200],
 xd:[5,15],xr:[135.5,916],yd:[-14,16],yr:[1932,1226],xt:xTicksC,yt:yTicksC,xpad:10,ypad:10,pts:pointsC.concat(extraC),line:lineC,xlabel:"Log2 of YBX3",ylabel:"Log2 of AREG",xl:[528,2004],yl:[57,1574]});
panel({name:"D",letter:[1069,1044],title:[...baseTitle,"CDH2 (CDH2_1000) vs YBX3 (CSDA_8531)","R=0.131 1.7 percentage explained p=1.29e-05"],tx:1657,ty:[1093,1131,1171,1211,1250],
 xd:[0,30000],xr:[1270,2003],yd:[0,22000],yr:[1904,1231],xt:xTicksD,yt:yTicksD,xf:(d,i)=>xLabelsD[i],yf:d3.format(","),xpad:8,ypad:6,rot:true,pts:pointsD,line:lineD,xlabel:"YBX3",ylabel:"CDH2",xl:[1650,2047],yl:[1125,1522]});
</script></body></html>
